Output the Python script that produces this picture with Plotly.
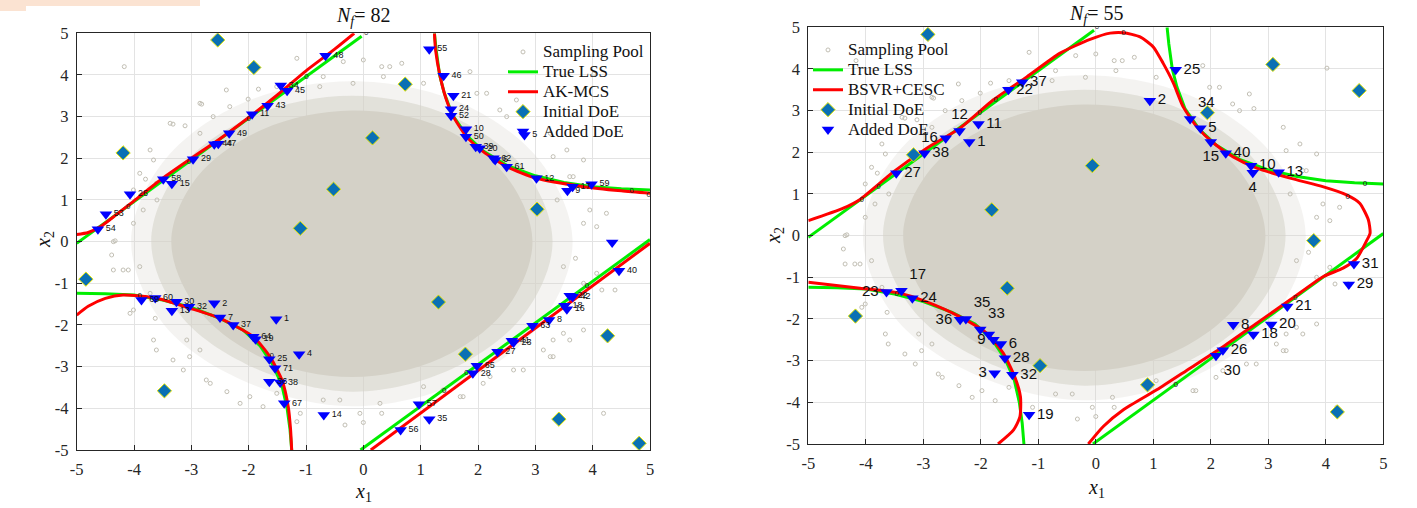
import plotly.graph_objects as go

W, H = 1417, 508

tick_vals = [-5, -4, -3, -2, -1, 0, 1, 2, 3, 4, 5]
tick_text = ["-5", "-4", "-3", "-2", "-1", "0", "1", "2", "3", "4", "5"]

# ---------------- true limit state surface (shared) ----------------
true_tl_x = [-5.0, -4.0, -3.0, -2.0, -1.0, -0.03]
true_tl_y = [-0.04, 0.96, 1.96, 2.96, 3.96, 4.93]
true_tr_x = [1.24, 1.27, 1.33, 1.41, 1.55, 1.80, 2.10, 2.50, 3.00, 3.50, 4.00, 4.50, 5.00]
true_tr_y = [5.00, 4.60, 4.00, 3.57, 3.05, 2.55, 2.17, 1.83, 1.58, 1.42, 1.32, 1.27, 1.24]
true_bl_x = [-5.0, -4.5, -4.0, -3.5, -3.0, -2.5, -2.1, -1.8, -1.58, -1.42, -1.33, -1.28, -1.25]
true_bl_y = [-1.24, -1.25, -1.28, -1.40, -1.58, -1.84, -2.12, -2.50, -2.95, -3.45, -4.00, -4.50, -5.00]
true_br_x = [-0.05, 5.0]
true_br_y = [-5.0, 0.05]

# ---------------- AK-MCS (left) ----------------
ak_tl_x = [-5.0, -4.8, -4.6, -4.4, -4.0, -3.5, -3.0, -2.5, -2.0, -1.5, -1.0, -0.5, -0.16]
ak_tl_y = [0.17, 0.22, 0.35, 0.55, 0.98, 1.52, 2.00, 2.47, 2.98, 3.52, 4.10, 4.62, 5.00]
ak_tr_x = [1.24, 1.26, 1.34, 1.45, 1.57, 1.80, 2.09, 2.50, 3.02, 3.84, 4.50, 5.00]
ak_tr_y = [5.00, 4.60, 3.96, 3.40, 3.00, 2.52, 2.16, 1.80, 1.52, 1.32, 1.22, 1.16]
ak_bl_x = [-5.0, -4.8, -4.5, -4.19, -3.6, -3.02, -2.5, -1.92, -1.63, -1.42, -1.31, -1.27, -1.25]
ak_bl_y = [-1.76, -1.55, -1.36, -1.28, -1.36, -1.60, -1.84, -2.28, -2.76, -3.32, -3.96, -4.50, -5.00]
ak_br_x = [0.13, 5.0]
ak_br_y = [-5.0, -0.04]

# ---------------- BSVR+CESC (right) ----------------
bs_a_x = [-5.0, -4.39, -4.10, -3.52, -2.94, -2.36, -1.78, -1.20, -0.62, -0.10, 0.25, 0.48, 0.77,
          1.00, 1.17, 1.35, 1.52, 1.76, 2.04, 2.39, 2.80, 3.38, 3.96, 4.36, 4.59, 4.74, 4.77,
          4.71, 4.54, 4.30, 3.96, 3.38, 2.80, 2.22, 1.64, 1.06, 0.48, 0.13, -0.13]
bs_a_y = [0.36, 0.66, 0.87, 1.53, 2.10, 2.58, 3.26, 3.81, 4.38, 4.71, 4.86, 4.87, 4.77,
          4.53, 4.14, 3.66, 3.09, 2.61, 2.23, 1.89, 1.62, 1.38, 1.17, 0.98, 0.78, 0.38, 0.06,
          -0.12, -0.54, -0.78, -0.98, -1.54, -2.10, -2.66, -3.18, -3.70, -4.18, -4.58, -5.00]
bs_b_x = [-5.0, -4.10, -3.41, -2.94, -2.36, -1.90, -1.61, -1.41, -1.31, -1.32, -1.43, -1.70]
bs_b_y = [-1.12, -1.26, -1.38, -1.59, -1.95, -2.34, -2.82, -3.39, -3.87, -4.35, -4.66, -5.00]

# ---------------- sampling pool (dense core, fading rims, sparse outliers) ----------------
pool_core_x = [2.95, 2.50, 1.35, -0.20, -1.75, -2.90, -3.35, -2.90, -1.75, -0.20, 1.35, 2.50, 2.95]
pool_core_y = [0.00, 1.55, 2.75, 3.15, 2.70, 1.55, 0.00, -1.60, -2.80, -3.25, -2.80, -1.60, 0.00]
pool_mid_x = [3.30, 2.80, 1.55, -0.20, -1.95, -3.20, -3.70, -3.20, -1.95, -0.20, 1.55, 2.80, 3.30]
pool_mid_y = [0.00, 1.75, 3.00, 3.50, 3.00, 1.75, 0.00, -1.75, -3.00, -3.60, -3.05, -1.75, 0.00]
pool_rim_x = [3.65, 3.10, 1.75, -0.20, -2.15, -3.50, -4.05, -3.50, -2.15, -0.20, 1.75, 3.10, 3.65]
pool_rim_y = [0.00, 1.90, 3.30, 3.85, 3.30, 1.90, 0.00, -1.95, -3.30, -3.95, -3.35, -1.95, 0.00]
pool_sparse_x = [-4.17, -1.16, -0.35, -1.83, -2.01, -2.82, -2.39, -3.32, -3.11, -3.66, -3.90, -3.80,
                 -4.33, -4.01, -3.60, -2.85, -2.62, -0.76, -0.18, 0.32, 0.67, 0.00, 1.86, 2.15, 2.38,
                 2.75, 3.26, 3.55, 3.84, 4.24, 3.95, 4.07, 3.60, 2.67, 0.35, -4.36, -4.10, -4.39,
                 -3.66, -3.32, -3.08, -2.74, -2.38, -1.98, -1.75, -1.10, -1.16, -0.32, -0.41, -0.06,
                 -4.01, -3.63, -2.85, 0.00, 0.32, 1.39, 1.69, 2.21, 2.79, 3.14, 3.31, 3.60, 3.84,
                 4.19, 4.16, 4.39, 4.07, 3.31, 4.02, 3.70,
                 -2.85, -3.37, -3.72, -4.01, -4.36, -4.19, -4.07, -3.61, -3.14, -2.67, -2.15, -0.70,
                 0.29, 1.05, 2.09, 2.62, 3.49, 3.84, 3.84, 3.66, 3.31, 2.50, 1.98, 1.05, 0.46, -0.70,
                 -1.51, -2.33, -3.61, -3.84, -3.90, -3.72, -3.03, -1.51, 1.74, 3.26, 3.49, 3.38]
pool_sparse_y = [4.20, 4.40, 4.32, 3.66, 3.42, 3.30, 3.64, 2.82, 2.78, 1.96, 1.64, 1.50,
                 0.02, 0.44, 1.00, 2.60, 3.00, 3.72, 3.80, 4.20, 4.28, 4.36, 4.08, 3.56, 3.16,
                 3.05, 2.60, 2.20, 1.96, 0.68, 0.76, 0.36, 1.56, 3.40, 3.96, -0.68, -0.68, -0.32,
                 -2.36, -2.84, -2.36, -3.32, -3.60, -3.72, -3.96, -4.12, -4.32, -4.40, -3.80, -4.12,
                 -1.64, -1.84, -2.60, -4.34, -4.12, -3.56, -3.72, -3.24, -3.08, -2.60, -2.76, -2.36, -2.12,
                 -4.12, -1.16, -1.16, -0.76, -2.36, 4.02, -0.40,
                 3.32, 2.84, 2.20, 1.24, 0.00, -0.68, -1.72, -2.60, -3.08, -3.40, -3.88, -3.80,
                 -3.88, -3.48, -3.40, -3.08, -2.20, -1.00, 0.44, 1.56, 2.04, 3.00, 3.56, 3.80, 4.20, 3.96,
                 3.72, 3.24, 1.40, 0.76, -0.60, -1.24, -2.76, -3.64, -3.72, -2.76, -0.60, 1.00]

# ---------------- design of experiments (left) ----------------
l_init_x = [-2.54, -1.91, 0.73, -4.19, 0.16, -0.52, -1.10, 3.03, -4.84, 1.31, 1.78, 4.26, -3.47, 3.41, 4.81]
l_init_y = [4.84, 4.18, 3.78, 2.13, 2.49, 1.26, 0.32, 0.78, -0.90, -1.45, -2.70, -2.26, -3.58, -4.26, -4.84]

l_add_x = [-0.66, -1.44, -1.33, -1.67, -1.94, -2.34, -2.60, -2.53, -2.97, -3.49, -3.34, -4.07, -4.49, -4.63,
           1.15, 1.40, 1.57, 1.53, 1.53, 1.79, 1.79, 1.96, 2.03, 2.27, 2.30, 2.50, 3.02, 3.56, 3.65, 3.98, 2.81, 4.34,
           4.46, 3.65, 3.60, 3.51, 3.55, 3.24, 2.95, 2.59, 2.62, 2.34, 1.98, 1.91, 0.97, 1.15, 0.65,
           -3.87, -3.63, -3.26, -3.34, -3.04, -2.60, -2.50, -2.27, -1.92, -1.88, -1.52, -1.12, -1.64, -1.54,
           -1.64, -1.45, -1.38, -0.69]
l_add_y = [4.46, 3.75, 3.62, 3.26, 3.06, 2.60, 2.34, 2.35, 1.98, 1.50, 1.39, 1.14, 0.66, 0.30,
           4.62, 3.98, 3.50, 3.18, 3.02, 2.70, 2.52, 2.28, 2.24, 2.00, 1.96, 1.80, 1.52, 1.22, 1.32, 1.38, 2.56, -0.02,
           -0.70, -1.32, -1.30, -1.54, -1.62, -1.88, -2.02, -2.38, -2.42, -2.64, -2.98, -3.16, -3.90, -4.26, -4.52,
           -1.40, -1.35, -1.44, -1.66, -1.56, -1.48, -1.82, -2.00, -2.28, -2.34, -1.86, -2.70, -2.82, -3.04,
           -3.36, -3.38, -3.88, -4.16]
l_add_lbl = ["48", "34", "45", "43", "11", "49", "44", "47", "29", "58", "15", "26", "53", "54",
             "55", "46", "21", "24", "52", "10", "50", "39", "20", "62", "6", "61", "12", "9", "17", "59", "5", "",
             "40", "42", "22", "18", "16", "8", "63", "41", "23", "27", "65", "28", "57", "35", "56",
             "69", "60", "30", "13", "32", "2", "7", "37", "64", "19", "1", "4", "25", "71",
             "36", "38", "67", "14"]

# ---------------- design of experiments (right) ----------------
r_init_x = [-2.92, -3.17, -1.81, -0.06, 3.08, 4.58, 1.94, 3.79, -1.54, -4.18, -0.97, 0.90, 4.20]
r_init_y = [4.83, 1.94, 0.62, 1.68, 4.11, 3.48, 2.95, -0.12, -1.26, -1.93, -3.12, -3.58, -4.23]

r_add_x = [-1.28, -1.52, -2.04, -2.37, -2.20, -2.61, -2.98, -3.47,
           1.39, 0.94, 1.64, 1.82, 2.00, 2.26, 2.70, 2.73, 3.18,
           -3.64, -3.38, -3.19, -2.36, -2.26, -2.01, -1.86, -1.78, -1.65, -1.58, -1.76, -1.45, -1.16,
           4.49, 4.40, 3.33, 2.39, 3.05, 2.74, 2.21, 2.09]
r_add_y = [3.68, 3.50, 2.68, 2.51, 2.25, 2.34, 1.98, 1.50,
           3.98, 3.24, 2.80, 2.58, 2.25, 1.98, 1.68, 1.51, 1.52,
           -1.35, -1.32, -1.50, -2.02, -2.00, -2.25, -2.37, -2.50, -2.60, -2.94, -3.30, -3.34, -4.30,
           -0.68, -1.17, -1.70, -2.14, -2.13, -2.37, -2.75, -2.88]
r_add_lbl = ["37", "22", "11", "12", "1", "16", "38", "27",
             "25", "2", "34", "5", "15", "40", "10", "4", "13",
             "23", "17", "24", "36", "35", "33", "", "9", "6", "28", "3", "32", "19",
             "31", "29", "21", "8", "20", "18", "26", "30"]

# contour level labels ("0")
l_zero_x = [0.05, -0.99, -2.00, -3.04, -4.10, 4.68, 4.98, 3.90, 1.41, 1.80, -3.90, -1.60]
l_zero_y = [5.00, 3.96, 2.94, 1.90, 0.84, 1.22, 1.12, -1.06, -3.58, -3.16, -1.30, -2.75]
r_zero_x = [0.02, 0.48, 4.38, 4.68, 3.47, 1.39, -3.46, -4.07, -3.78, -1.74, -2.02, -1.75]
r_zero_y = [5.00, 4.86, 0.92, 1.24, -1.50, -3.58, -1.40, 0.86, 1.16, 3.26, 2.94, -2.55]


# ======================= styling =======================
SERIF = "Liberation Serif, Times New Roman, serif"
SANS = "Liberation Sans, Arial, sans-serif"
POOL = "#d4d1c7"
GREEN = "#00ee00"
RED = "#ff0000"
TEAL = "#0a70b4"
BLUE = "#0000ff"


def join(*segs):
    xs, ys = [], []
    for i in range(0, len(segs), 2):
        if xs:
            xs.append(None)
            ys.append(None)
        xs += list(segs[i])
        ys += list(segs[i + 1])
    return xs, ys


def lg(name):
    return '<span style="font-size:17px">' + name + '</span>'


r_text_pos = ["middle right", "middle right", "middle right", "top center", "middle right", "middle left",
              "middle right", "middle right",
              "middle right", "middle right", "top right", "middle right", "bottom center", "middle right",
              "middle right", "bottom center", "middle right",
              "middle left", "top right", "middle right", "middle left", "top right", "top right",
              "middle right", "middle left", "middle right", "middle right", "middle left", "middle right",
              "middle right",
              "middle right", "middle right", "middle right", "middle right", "middle right",
              "middle right", "middle right", "bottom right"]

fig = go.Figure()


def add_panel(xa, ya, legend, model_name, model_x, model_y, init_x, init_y, add_x, add_y, add_lbl,
              lbl_size, lbl_pos, zero_x, zero_y):
    for px, py, fc in [(pool_rim_x, pool_rim_y, "rgba(212,209,199,0.25)"),
                       (pool_mid_x, pool_mid_y, "rgba(212,209,199,0.55)"),
                       (pool_core_x, pool_core_y, POOL)]:
        fig.add_trace(go.Scatter(x=px, y=py, mode="lines", fill="toself",
                                 line=dict(width=0, shape="spline", color="rgba(0,0,0,0)"),
                                 fillcolor=fc, hoverinfo="skip",
                                 showlegend=False, xaxis=xa, yaxis=ya))
    fig.add_trace(go.Scatter(x=pool_sparse_x, y=pool_sparse_y, mode="markers", name=lg("Sampling Pool"),
                             marker=dict(symbol="circle-open", size=4, color="#c2bfb4",
                                         line=dict(width=1, color="#c2bfb4")),
                             legend=legend, xaxis=xa, yaxis=ya))
    tx, ty = join(true_tl_x, true_tl_y, true_tr_x, true_tr_y, true_bl_x, true_bl_y, true_br_x, true_br_y)
    fig.add_trace(go.Scatter(x=tx, y=ty, mode="lines", name=lg("True LSS"),
                             line=dict(color=GREEN, width=3), legend=legend, xaxis=xa, yaxis=ya))
    fig.add_trace(go.Scatter(x=model_x, y=model_y, mode="lines", name=lg(model_name),
                             line=dict(color=RED, width=3, shape="spline", smoothing=0.6),
                             legend=legend, xaxis=xa, yaxis=ya))
    fig.add_trace(go.Scatter(x=zero_x, y=zero_y, mode="text", text=["0"] * len(zero_x),
                             textfont=dict(family=SANS, size=8, color="#222222"),
                             showlegend=False, hoverinfo="skip", xaxis=xa, yaxis=ya))
    fig.add_trace(go.Scatter(x=init_x, y=init_y, mode="markers", name=lg("Initial DoE"),
                             marker=dict(symbol="diamond", size=11, color=TEAL,
                                         line=dict(width=1, color="#e6e600")),
                             legend=legend, xaxis=xa, yaxis=ya))
    fig.add_trace(go.Scatter(x=add_x, y=add_y, mode="markers+text", name=lg("Added DoE"),
                             text=add_lbl, textposition=lbl_pos,
                             textfont=dict(family=SANS, size=lbl_size, color="#111111"),
                             marker=dict(symbol="triangle-down", size=11, color=BLUE,
                                         line=dict(width=0)),
                             legend=legend, xaxis=xa, yaxis=ya))


ak_x, ak_y = join(ak_tl_x, ak_tl_y, ak_tr_x, ak_tr_y, ak_bl_x, ak_bl_y, ak_br_x, ak_br_y)
bs_x, bs_y = join(bs_a_x, bs_a_y, bs_b_x, bs_b_y)

add_panel("x", "y", "legend", "AK-MCS", ak_x, ak_y, l_init_x, l_init_y, l_add_x, l_add_y, l_add_lbl,
          9, "middle right", l_zero_x, l_zero_y)
add_panel("x2", "y2", "legend2", "BSVR+CESC", bs_x, bs_y, r_init_x, r_init_y, r_add_x, r_add_y, r_add_lbl,
          15, r_text_pos, r_zero_x, r_zero_y)

axis_common = dict(range=[-5, 5], tickvals=tick_vals, ticktext=tick_text, showgrid=True,
                   gridcolor="#e3e3e3", gridwidth=1, zeroline=False, showline=True, mirror=True,
                   linecolor="#262626", linewidth=1, ticks="inside", ticklen=5, tickcolor="#262626",
                   tickfont=dict(family=SERIF, size=16.5, color="#262626"), automargin=False,
                   ticklabelstandoff=4)

legend_common = dict(xanchor="left", yanchor="top", bgcolor="rgba(0,0,0,0)",
                     font=dict(family=SERIF, size=13, color="#111111"), tracegroupgap=0, itemwidth=30)

fig.update_layout(
    width=W, height=H,
    margin=dict(l=0, r=0, t=0, b=0),
    paper_bgcolor="white", plot_bgcolor="white",
    xaxis=dict(domain=[76.7 / W, 650 / W], anchor="y", **axis_common),
    yaxis=dict(domain=[1 - 450 / H, 1 - 33.3 / H], anchor="x", **axis_common),
    xaxis2=dict(domain=[808.3 / W, 1383.3 / W], anchor="y2", **axis_common),
    yaxis2=dict(domain=[1 - 444 / H, 1 - 27.3 / H], anchor="x2", **axis_common),
    legend=dict(x=503 / W, y=1 - 37 / H, **legend_common),
    legend2=dict(x=808 / W, y=1 - 35 / H, **legend_common),
    showlegend=True,
)

ann_font = dict(family=SERIF, size=20, color="#111111")
annotations = [
    dict(text="<i>N</i><sub><i>f</i></sub>= 82", x=363 / W, y=1 - 2 / H, yanchor="top"),
    dict(text="<i>N</i><sub><i>f</i></sub>= 55", x=1096 / W, y=1.0, yanchor="top"),
    dict(text="<i>x</i><sub>1</sub>", x=363 / W, y=1 - 492 / H, yanchor="middle"),
    dict(text="<i>x</i><sub>1</sub>", x=1096 / W, y=1 - 488 / H, yanchor="middle"),
    dict(text="<i>x</i><sub>2</sub>", x=44 / W, y=1 - 240 / H, textangle=-90, yanchor="middle"),
    dict(text="<i>x</i><sub>2</sub>", x=774 / W, y=1 - 236 / H, textangle=-90, yanchor="middle"),
]
for a in annotations:
    fig.add_annotation(xref="paper", yref="paper", showarrow=False, xanchor="center",
                       font=ann_font, **a)

# cropping artefact band at the very top-left of the reference image
fig.add_shape(type="rect", xref="paper", yref="paper", x0=0, x1=200 / W, y0=1 - 6 / H, y1=1,
              fillcolor="#fbe3d2", line=dict(width=0), layer="above")
fig.add_shape(type="rect", xref="paper", yref="paper", x0=0, x1=26 / W, y0=1 - 11 / H, y1=1,
              fillcolor="#fbe3d2", line=dict(width=0), layer="above")

fig.write_html("out.html", config={"displayModeBar": False},
               post_script="document.body.style.margin='0px';document.body.style.overflow='hidden';")
